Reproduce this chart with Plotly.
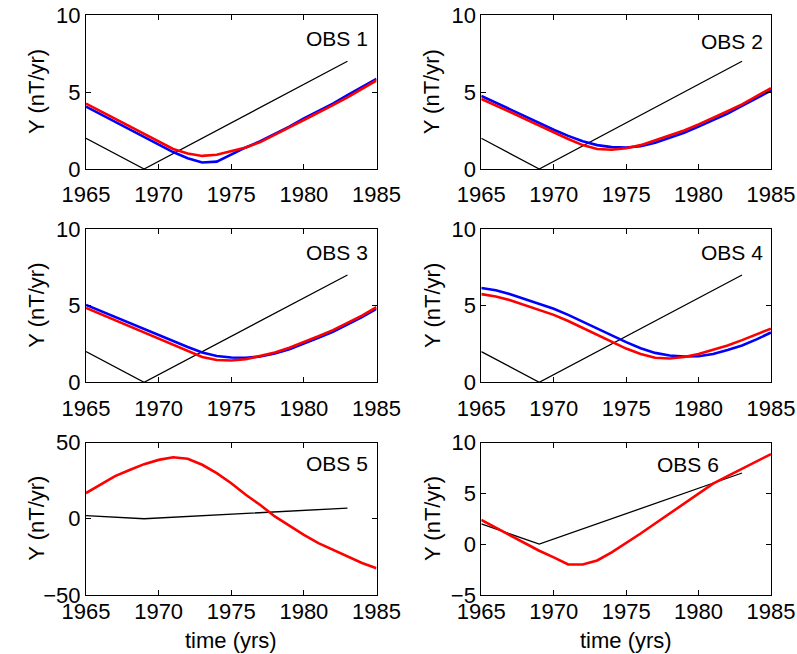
import plotly.graph_objects as go
from plotly.subplots import make_subplots

# annual epochs
years = list(range(1965, 1986))

# reference (black) piecewise-linear line
ref_years = [1965, 1969, 1983]
ref_vals = [2, 0, 7]

# secular variation in Y at each observatory (red and blue models)
obs1_red = [4.25, 3.75, 3.25, 2.75, 2.25, 1.75, 1.3, 1.0, 0.85, 0.92, 1.15, 1.4, 1.75, 2.2, 2.7, 3.18, 3.65, 4.15, 4.65, 5.2, 5.75]
obs1_blue = [4.05, 3.55, 3.05, 2.55, 2.05, 1.6, 1.1, 0.7, 0.42, 0.48, 0.95, 1.4, 1.8, 2.25, 2.75, 3.28, 3.75, 4.25, 4.8, 5.3, 5.85]
obs2_red = [4.55, 4.15, 3.7, 3.25, 2.8, 2.4, 1.95, 1.55, 1.3, 1.25, 1.35, 1.55, 1.85, 2.15, 2.5, 2.9, 3.3, 3.75, 4.2, 4.7, 5.25]
obs2_blue = [4.75, 4.3, 3.85, 3.4, 2.95, 2.55, 2.15, 1.8, 1.55, 1.42, 1.4, 1.48, 1.7, 2.0, 2.35, 2.75, 3.15, 3.6, 4.1, 4.6, 5.1]
obs3_red = [4.85, 4.45, 4.05, 3.6, 3.2, 2.8, 2.4, 2.0, 1.65, 1.45, 1.42, 1.5, 1.7, 1.95, 2.25, 2.6, 3.0, 3.4, 3.85, 4.35, 4.9]
obs3_blue = [5.05, 4.65, 4.25, 3.85, 3.45, 3.05, 2.65, 2.3, 1.95, 1.72, 1.62, 1.6, 1.68, 1.88, 2.15, 2.5, 2.9, 3.3, 3.75, 4.25, 4.8]
obs4_red = [5.75, 5.6, 5.35, 5.05, 4.75, 4.4, 4.0, 3.55, 3.1, 2.6, 2.2, 1.85, 1.6, 1.55, 1.65, 1.85, 2.1, 2.4, 2.75, 3.1, 3.5]
obs4_blue = [6.15, 6.0, 5.75, 5.45, 5.15, 4.8, 4.4, 3.95, 3.5, 3.05, 2.62, 2.22, 1.92, 1.75, 1.68, 1.7, 1.85, 2.1, 2.4, 2.8, 3.25]
obs5_red = [16.8, 22.5, 28, 32, 35.8, 38.6, 40.3, 39.3, 35.4, 29.9, 23.3, 15.7, 9, 1.5, -4.5, -10.6, -16, -20.5, -24.8, -29, -32.4]
obs6_red = [2.38, 1.62, 0.87, 0.1, -0.65, -1.3, -2.0, -2.0, -1.6, -0.8, 0.1, 1.05, 2.03, 3.0, 3.98, 4.95, 5.95, 6.7, 7.4, 8.15, 8.86]

panels = [
    ("OBS 1", obs1_red, obs1_blue, [0, 10], [0, 5, 10], 1980, 8.45),
    ("OBS 2", obs2_red, obs2_blue, [0, 10], [0, 5, 10], 1980, 8.3),
    ("OBS 3", obs3_red, obs3_blue, [0, 10], [0, 5, 10], 1980, 8.45),
    ("OBS 4", obs4_red, obs4_blue, [0, 10], [0, 5, 10], 1980, 8.45),
    ("OBS 5", obs5_red, None, [-50, 50], [-50, 0, 50], 1980, 36.5),
    ("OBS 6", obs6_red, None, [-5, 10], [-5, 0, 5, 10], 1977, 7.85),
]

W, H = 797, 654
FONT = "Liberation Sans, Arial, Helvetica, sans-serif"

# plot-area boxes in pixels (left, right, top, bottom)
col_px = [(86, 376.5), (481.3, 771)]
row_px = [(15, 169), (229, 382.3), (442.5, 595)]

fig = make_subplots(rows=3, cols=2)

annotations = []
for i, (name, red, blue, yr, yt, tx, ty) in enumerate(panels):
    r, c = i // 2 + 1, i % 2 + 1
    fig.add_trace(go.Scatter(x=ref_years, y=ref_vals, mode="lines",
                             line=dict(color="black", width=1.3), showlegend=False), row=r, col=c)
    if blue is not None:
        fig.add_trace(go.Scatter(x=years, y=blue, mode="lines",
                                 line=dict(color="#0000ff", width=2.6), showlegend=False), row=r, col=c)
    fig.add_trace(go.Scatter(x=years, y=red, mode="lines",
                             line=dict(color="#ff0000", width=2.6), showlegend=False), row=r, col=c)

    l, rr = col_px[c - 1]
    t, b = row_px[r - 1]
    axis_common = dict(showline=True, linecolor="black", linewidth=1, mirror="ticks",
                       ticks="inside", ticklen=5, tickwidth=1, tickcolor="black",
                       showgrid=False, zeroline=False, automargin=False,
                       tickfont=dict(family=FONT, size=22, color="black"))
    fig.update_xaxes(range=[1965, 1985], tickvals=[1965, 1970, 1975, 1980, 1985],
                     domain=[l / W, rr / W], ticklabelstandoff=(6 if r < 3 else -3),
                     row=r, col=c, **axis_common)
    fig.update_yaxes(range=yr, tickvals=yt, domain=[1 - b / H, 1 - t / H],
                     row=r, col=c, **axis_common)

    xa = "x" if i == 0 else f"x{i + 1}"
    ya = "y" if i == 0 else f"y{i + 1}"
    annotations.append(dict(x=tx, y=ty, xref=xa, yref=ya, text=name, showarrow=False,
                            xanchor="left", yanchor="middle",
                            font=dict(family=FONT, size=21, color="black")))
    # y-axis title
    annotations.append(dict(x=(l - 49) / W, y=1 - (t + b) / 2 / H, xref="paper", yref="paper",
                            text="Y (nT/yr)", textangle=-90, showarrow=False,
                            xanchor="center", yanchor="middle",
                            font=dict(family=FONT, size=22, color="black")))
    if r == 3:
        annotations.append(dict(x=(l + rr) / 2 / W, y=1 - 640 / H, xref="paper", yref="paper",
                                text="time (yrs)", showarrow=False,
                                xanchor="center", yanchor="middle",
                                font=dict(family=FONT, size=22, color="black")))

fig.update_layout(width=W, height=H, margin=dict(l=0, r=0, t=0, b=0, autoexpand=False),
                  paper_bgcolor="white", plot_bgcolor="white",
                  annotations=annotations, font=dict(family=FONT, color="black"))

fig.write_html("out.html")
